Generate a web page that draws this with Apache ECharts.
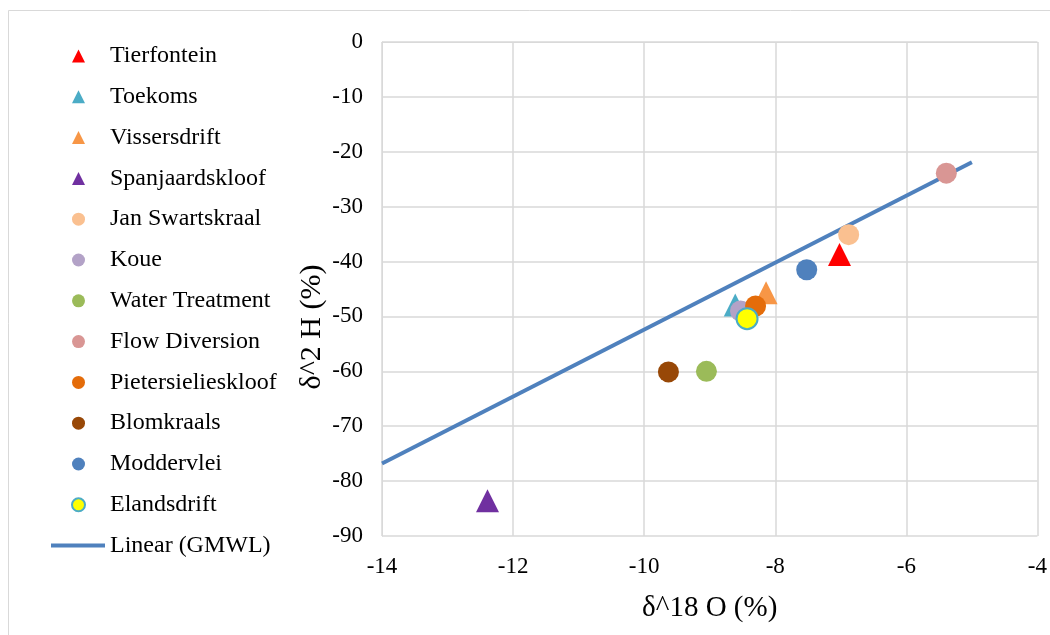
<!DOCTYPE html>
<html>
<head>
<meta charset="utf-8">
<script src="https://cdn.jsdelivr.net/npm/echarts@6/dist/echarts.min.js"></script>
<style>
  html, body { margin: 0; padding: 0; background: #fff; }
  #chart { width: 1050px; height: 635px; }
</style>
</head>
<body>
<div id="chart"></div>
<script>
// Sampling sites: δ18O and δ2H values
const siteNames = [
  'Tierfontein', 'Toekoms', 'Vissersdrift', 'Spanjaardskloof',
  'Jan Swartskraal', 'Koue', 'Water Treatment', 'Flow Diversion',
  'Pietersielieskloof', 'Blomkraals', 'Moddervlei', 'Elandsdrift'
];
const d18O = [-7.02, -8.61, -8.14, -12.39, -6.88, -8.53, -9.05, -5.39, -8.30, -9.63, -7.52, -8.43];
const d2H  = [-38.7, -47.9, -45.7, -83.6, -35.1, -49.0, -60.0, -23.9, -48.1, -60.1, -41.5, -50.4];
const siteSymbols = [
  'triangle', 'triangle', 'triangle', 'triangle',
  'circle', 'circle', 'circle', 'circle', 'circle', 'circle', 'circle', 'circle'
];
const siteColors = [
  '#FF0000', '#4BACC6', '#F79646', '#7030A0',
  '#FAC090', '#B3A2C7', '#9BBB59', '#D99694',
  '#E46C0A', '#984807', '#4F81BD', '#FFFF00'
];

// Linear (GMWL) line endpoints
const gmwlName = 'Linear (GMWL)';
const gmwlX = [-14, -5];
const gmwlY = [-76.8, -21.9];

// Axis ranges
const xRange = { min: -14, max: -4, step: 2 };
const yRange = { min: -90, max: 0, step: 10 };

const serif = '"Liberation Serif", "Times New Roman", serif';
const gridColor = '#D9D9D9';
const legendText = { fontFamily: serif, fontSize: 24, color: '#000', lineHeight: 24 };
const rowGap = 16.8;
const legendTop = 39;

const scatterSeries = siteNames.map((name, i) => {
  const isTri = siteSymbols[i] === 'triangle';
  const style = { color: siteColors[i], opacity: 1 };
  if (name === 'Elandsdrift') {
    style.borderColor = '#4BACC6';
    style.borderWidth = 2;
  }
  return {
    name: name,
    type: 'scatter',
    symbol: siteSymbols[i],
    symbolSize: isTri ? 23 : 21,
    itemStyle: style,
    data: [[d18O[i], d2H[i]]]
  };
});

const lineSeries = {
  name: gmwlName,
  type: 'line',
  symbol: 'none',
  lineStyle: { color: '#4F81BD', width: 4 },
  itemStyle: { color: '#4F81BD' },
  data: gmwlX.map((x, i) => [x, gmwlY[i]]),
  z: 1
};

const chart = echarts.init(document.getElementById('chart'), null, { renderer: 'canvas' });
chart.setOption({
  animation: false,
  backgroundColor: '#fff',
  textStyle: { fontFamily: serif },
  graphic: [{
    type: 'rect',
    shape: { x: 8.5, y: 10.5, width: 1100, height: 700 },
    style: { fill: 'none', stroke: gridColor, lineWidth: 1 },
    silent: true
  }],
  grid: { left: 382, right: 12, top: 42, bottom: 99, containLabel: false },
  legend: [{
    // site markers
    orient: 'vertical',
    left: 66,
    top: legendTop,
    itemWidth: 13,
    itemHeight: 13,
    itemGap: rowGap,
    selectedMode: false,
    textStyle: Object.assign({ padding: [0, 0, 0, 20] }, legendText),
    data: siteNames
  }, {
    // fitted line
    orient: 'vertical',
    left: 46,
    top: legendTop + siteNames.length * (24 + rowGap),
    itemWidth: 54,
    itemHeight: 4,
    selectedMode: false,
    textStyle: legendText,
    data: [{ name: gmwlName, icon: 'rect' }]
  }],
  xAxis: {
    type: 'value',
    min: xRange.min, max: xRange.max, interval: xRange.step,
    name: 'δ^18 O (%)',
    nameLocation: 'middle',
    nameGap: 58,
    nameTextStyle: { fontFamily: serif, fontSize: 29, color: '#000' },
    axisLine: { show: true, lineStyle: { color: gridColor } },
    axisTick: { show: false },
    axisLabel: { fontFamily: serif, fontSize: 23, color: '#000', margin: 19 },
    splitLine: { show: true, lineStyle: { color: gridColor, width: 1.5 } }
  },
  yAxis: {
    type: 'value',
    min: yRange.min, max: yRange.max, interval: yRange.step,
    name: 'δ^2 H (%)',
    nameLocation: 'middle',
    nameGap: 55,
    nameMoveOverlap: false,
    nameTextStyle: { fontFamily: serif, fontSize: 30, color: '#000', padding: [0, 76, 0, 0] },
    axisLine: { show: true, lineStyle: { color: gridColor } },
    axisTick: { show: false },
    axisLabel: { fontFamily: serif, fontSize: 23, color: '#000', margin: 19 },
    splitLine: { show: true, lineStyle: { color: gridColor, width: 1.5 } }
  },
  series: [lineSeries].concat(scatterSeries)
});
</script>
</body>
</html>
